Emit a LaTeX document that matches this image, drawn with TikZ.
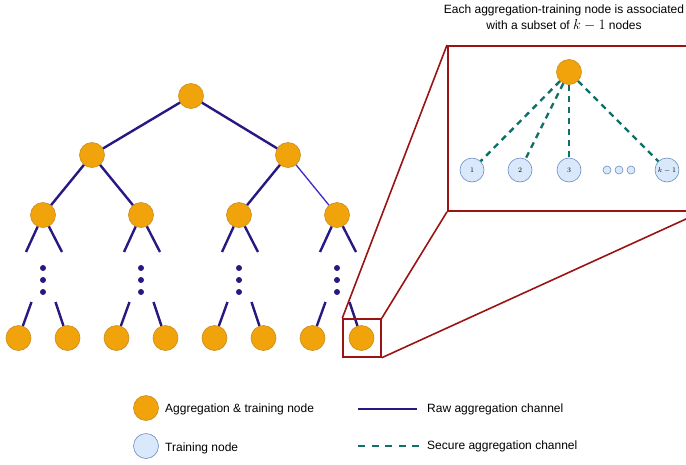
\documentclass[tikz,border=0pt]{standalone}
\usepackage{fontspec}
\setmainfont{Liberation Sans}
\definecolor{aggfill}{RGB}{240,163,10}
\definecolor{aggdraw}{RGB}{205,140,30}
\definecolor{trnfill}{RGB}{218,232,252}
\definecolor{trndraw}{RGB}{108,142,191}
\definecolor{navy}{RGB}{40,25,130}
\definecolor{thinblue}{RGB}{60,40,200}
\definecolor{teal}{RGB}{16,112,104}
\definecolor{zred}{RGB}{155,20,20}
\begin{document}
\begin{tikzpicture}[x=1pt,y=-1pt,
  agg/.style={circle,fill=aggfill,draw=aggdraw,line width=0.6pt,minimum size=25pt,inner sep=0pt},
  trn/.style={circle,fill=trnfill,draw=trndraw,line width=0.6pt,minimum size=24pt,inner sep=0pt,font=\fontsize{7}{8}\selectfont},
  tdot/.style={circle,fill=trnfill,draw=trndraw,line width=0.6pt,minimum size=8pt,inner sep=0pt},
  raw/.style={draw=navy,line width=2.4pt},
  secure/.style={draw=teal,line width=2.4pt,dash pattern=on 6pt off 5pt},
  zline/.style={draw=zred,line width=1.6pt},
  lbl/.style={font=\fontsize{12}{15}\selectfont,inner sep=0pt,anchor=west}]
\useasboundingbox (0,0) rectangle (686,464);
% tree
\node[agg] (r) at (191,96) {};
\node[agg] (a) at (92,155) {};
\node[agg] (b) at (288,155) {};
\foreach \i in {0,...,3}{
  \pgfmathsetmacro\cx{43+98*\i}
  \node[agg] (m\i) at (\cx,215) {};
  \node[agg] (la\i) at (\cx-24.5,338) {};
  \node[agg] (lb\i) at (\cx+24.5,338) {};
  \coordinate (ua\i) at (\cx-17,252);
  \coordinate (ub\i) at (\cx+19,252);
  \coordinate (da\i) at (\cx-11.5,302);
  \coordinate (db\i) at (\cx+12.5,302);
  \draw[raw] (m\i) -- (ua\i);
  \draw[raw] (m\i) -- (ub\i);
  \draw[raw] (la\i) -- (da\i);
  \draw[raw] (lb\i) -- (db\i);
  \fill[navy] (\cx,268) circle (3pt) (\cx,280) circle (3pt) (\cx,292) circle (3pt);
}
\draw[raw] (r) -- (a);
\draw[raw] (r) -- (b);
\draw[raw] (a) -- (m0);
\draw[raw] (a) -- (m1);
\draw[raw] (b) -- (m2);
\draw[draw=thinblue,line width=1.3pt] (b) -- (m3);
% zoom
\node[draw=zred,line width=1.5pt,minimum size=38pt,inner sep=0pt] (zb) at (362,338) {};
\node[draw=zred,line width=1.8pt,minimum width=253pt,minimum height=165pt,inner sep=0pt,anchor=north west] (ib) at (447,45) {};
\draw[zline] (zb.north west) -- (ib.north west);
\draw[zline] (zb.north east) -- (ib.south west);
\draw[zline] (zb.south east) -- (ib.south east);
% inset
\node[agg] (t) at (569,72) {};
\node[trn] (t1) at (472,170) {$1$};
\node[trn] (t2) at (520,170) {$2$};
\node[trn] (t3) at (569,170) {$3$};
\node[trn] (tk) at (667,170) {$k-1$};
\node[tdot] (d1) at (607,170) {};
\node[tdot] (d2) at (619,170) {};
\node[tdot] (d3) at (631,170) {};
\draw[secure] (t) -- (t1);
\draw[secure] (t) -- (t2);
\draw[secure] (t) -- (t3);
\draw[secure] (t) -- (tk);
\node[align=center,font=\fontsize{12}{16}\selectfont] (title) at (564,18) {Each aggregation-training node is associated\\with a subset of {\fontsize{14}{16}\selectfont$k-1$} nodes};
% legend
\node[agg] (lg1) at (146,408) {};
\node[lbl] (lt1) at (165,409) {Aggregation \& training node};
\node[trn,minimum size=25pt] (lg2) at (146,446) {};
\node[lbl] (lt2) at (165,448) {Training node};
\coordinate (ra) at (358,409);
\coordinate (rb) at (417,409);
\draw[raw,line width=2.2pt] (ra) -- (rb);
\node[lbl] (lt3) at (427,409) {Raw aggregation channel};
\coordinate (sa) at (358,446);
\coordinate (sb) at (420,446);
\draw[secure,line width=2.2pt,dash pattern=on 7pt off 6.5pt] (sa) -- (sb);
\node[lbl] (lt4) at (427,446) {Secure aggregation channel};
\end{tikzpicture}
\end{document}
